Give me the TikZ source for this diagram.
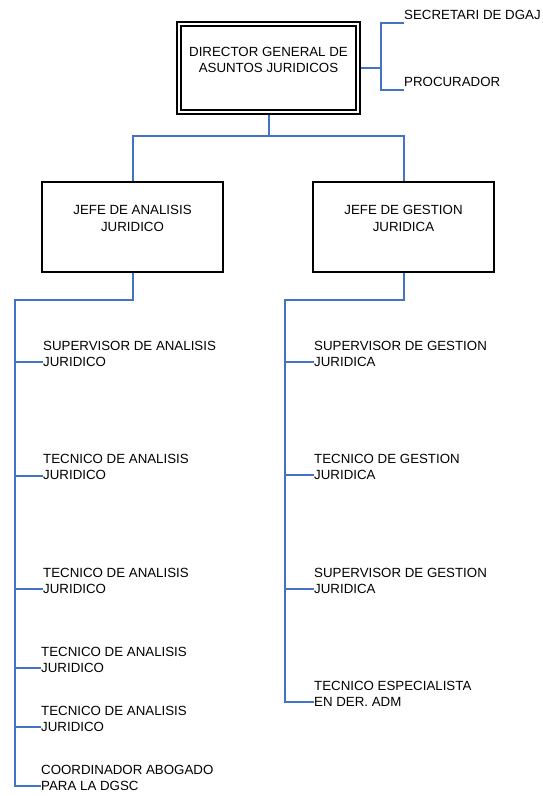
\documentclass[tikz,border=0pt]{standalone}
\usepackage{fontspec}
\setmainfont{Liberation Sans}
\definecolor{linkblue}{RGB}{68,114,196}
\begin{document}
\begin{tikzpicture}[x=1pt,y=-1pt,
  conn/.style={draw=linkblue, line width=2pt},
  box/.style={draw=black, line width=1.8pt, minimum width=181pt, minimum height=90pt, inner sep=0pt},
  boxtext/.style={align=center, inner sep=0pt, font=\fontsize{13.3}{16.3}\selectfont},
  lbl/.style={align=left, inner sep=0pt, anchor=south west, font=\fontsize{13.3}{16.3}\selectfont}]

\useasboundingbox (0,0) rectangle (543,796);
\fill[white] (0,0) rectangle (543,796);

% Director general: double-ruled box
\node[draw, line width=2pt, minimum width=183pt, minimum height=92pt, inner sep=0pt] (dg) at (268.5,68) {};
\draw[line width=1.3pt] ([shift={(5pt,-5pt)}]dg.north west) rectangle ([shift={(-5pt,5pt)}]dg.south east);
\node[boxtext] (dgt) at (268.5,60) {DIRECTOR GENERAL DE\\ASUNTOS JURIDICOS};

% Staff positions beside the director
\node[lbl] (sec) at (404,19.75) {SECRETARI DE DGAJ};
\node[lbl] (proc) at (404,86.75) {PROCURADOR};
\coordinate (secp) at ([yshift=-3.25pt]sec.south west);
\coordinate (procp) at ([yshift=-3.25pt]proc.south west);
\coordinate (dj) at (381,68);
\draw[conn] (dg.east) -- (dj);
\draw[conn] (secp) -| (dj) |- (procp);

% Department heads
\node[box] (ja) at (132.5,227) {};
\node[boxtext] (jat) at (132.5,218.5) {JEFE DE ANALISIS\\JURIDICO};
\node[box] (jg) at (403.5,227) {};
\node[boxtext] (jgt) at (403.5,218.5) {JEFE DE GESTION\\JURIDICA};

\coordinate (bus) at (268.5,136);
\draw[conn] (dg.south) -- (bus);
\draw[conn] (ja.north) |- (bus) -| (jg.north);

% Analysis branch
\node[lbl] (la1) at (43,366.75) {SUPERVISOR DE ANALISIS\\JURIDICO};
\node[lbl] (la2) at (43,480.25) {TECNICO DE ANALISIS\\JURIDICO};
\node[lbl] (la3) at (43,593.75) {TECNICO DE ANALISIS\\JURIDICO};
\node[lbl] (la4) at (41,672.75) {TECNICO DE ANALISIS\\JURIDICO};
\node[lbl] (la5) at (41,731.75) {TECNICO DE ANALISIS\\JURIDICO};
\node[lbl] (la6) at (41,790.75) {COORDINADOR ABOGADO\\PARA LA DGSC};
\foreach \i in {1,...,6}{\coordinate (a\i) at ([yshift=4.75pt]la\i.south west);}
\coordinate (lt) at (15,300);
\draw[conn] (ja.south) |- (lt) |- (a6);
\foreach \i in {1,...,5}{\draw[conn] (lt |- a\i) -- (a\i);}

% Management branch
\node[lbl] (lg1) at (314,366.75) {SUPERVISOR DE GESTION\\JURIDICA};
\node[lbl] (lg2) at (314,479.75) {TECNICO DE GESTION\\JURIDICA};
\node[lbl] (lg3) at (314,593.75) {SUPERVISOR DE GESTION\\JURIDICA};
\node[lbl] (lg4) at (314,706.75) {TECNICO ESPECIALISTA\\EN DER. ADM};
\foreach \i in {1,...,4}{\coordinate (g\i) at ([yshift=4.75pt]lg\i.south west);}
\coordinate (rt) at (285,300);
\draw[conn] (jg.south) |- (rt) |- (g4);
\foreach \i in {1,...,3}{\draw[conn] (rt |- g\i) -- (g\i);}
\end{tikzpicture}
\end{document}
